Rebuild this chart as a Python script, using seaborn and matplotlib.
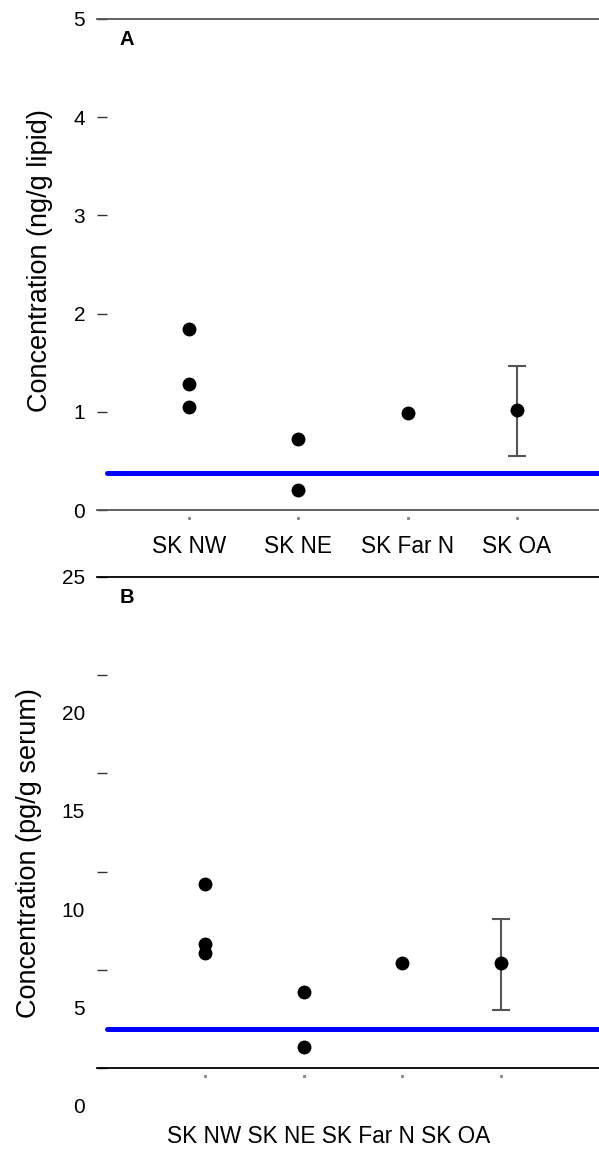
import matplotlib
matplotlib.use("Agg")
import matplotlib.pyplot as plt
import seaborn as sns
import pandas as pd
from matplotlib.transforms import ScaledTranslation, blended_transform_factory

# ---------------- data ----------------
categories = ["SK NW", "SK NE", "SK Far N", "SK OA"]

a_groups = ["SK NW", "SK NW", "SK NW", "SK NE", "SK NE", "SK Far N", "SK OA"]
a_values = [1.84, 1.28, 1.05, 0.72, 0.20, 0.985, 1.02]
a_oa_low, a_oa_high = 0.553, 1.47
a_lod = 0.38
a_yticks = [0, 1, 2, 3, 4, 5]
a_ylabel = "Concentration (ng/g lipid)"

b_groups = ["SK NW", "SK NW", "SK NW", "SK NE", "SK NE", "SK Far N", "SK OA"]
b_values = [9.36, 6.33, 5.83, 3.85, 1.05, 5.36, 5.33]
b_oa_low, b_oa_high = 2.95, 7.60
b_lod = 1.99
b_yticks = [0, 5, 10, 15, 20, 25]
b_ylabel = "Concentration (pg/g serum)"

# ---------------- style ----------------
sns.set_theme(style="white")
plt.rcParams["font.family"] = ["Liberation Sans", "DejaVu Sans"]

W, H = 599, 1150
fig = plt.figure(figsize=(W / 100, H / 100), dpi=100)
axA = fig.add_axes([97 / W, 1 - 510 / H, 502 / W, 491 / H])
axB = fig.add_axes([97 / W, 1 - 1068 / H, 502 / W, 491 / H])


def draw_panel(ax, groups, values, oa_low, oa_high, lod, yticks, ylabel,
               xlim, spine_color, letter):
    df = pd.DataFrame({"group": groups, "value": values})
    sns.stripplot(data=df, x="group", y="value", order=categories,
                  jitter=False, color="black", size=10, linewidth=0,
                  ax=ax, zorder=4)
    idx = categories.index("SK OA")
    mean = df.loc[df["group"] == "SK OA", "value"].iloc[0]
    ax.errorbar([idx], [mean], yerr=[[mean - oa_low], [oa_high - mean]],
                fmt="none", ecolor="#555555", elinewidth=1.5,
                capsize=6.2, capthick=1.5, zorder=3)
    ax.axhline(lod, xmin=10 / 502, xmax=1, color="#0000ff", lw=3.6, zorder=2)

    ax.set_xlim(*xlim)
    ax.set_ylim(yticks[0], yticks[-1])
    ax.set_yticks(yticks)
    ax.set_yticklabels([str(t) for t in yticks])
    for s in ["left", "right"]:
        ax.spines[s].set_visible(False)
    for s in ["top", "bottom"]:
        ax.spines[s].set_visible(True)
        ax.spines[s].set_color(spine_color)
        ax.spines[s].set_linewidth(1.3)
    ax.tick_params(axis="y", left=True, direction="in", length=7.2,
                   width=1, color="#333333", pad=8.6, labelsize=15,
                   labelcolor="black")
    ax.tick_params(axis="x", bottom=False, length=0, pad=18, labelsize=16.3,
                   labelcolor="black")
    ax.set_xlabel("")
    ax.set_ylabel(ylabel, fontsize=19.5, color="black")

    # tiny category tick dots below the axis
    tr = blended_transform_factory(ax.transData, ax.transAxes)
    ax.plot(range(len(categories)), [-0.0153] * len(categories), "s",
            ms=1.2, color="#888888", transform=tr, clip_on=False)

    ax.text(0.0458, 0.978, letter, transform=ax.transAxes, fontsize=14.5,
            fontweight="bold", ha="left", va="top", color="black")


draw_panel(axA, a_groups, a_values, a_oa_low, a_oa_high, a_lod, a_yticks,
           a_ylabel, (-0.842, 3.751), "#555555", "A")
draw_panel(axB, b_groups, b_values, b_oa_low, b_oa_high, b_lod, b_yticks,
           b_ylabel, (-1.10, 3.995), "black", "B")

axA.yaxis.set_label_coords(-0.0876, 0.508)
axB.yaxis.set_label_coords(-0.1096, 0.438)

# panel B: category names squeezed into one line
axB.tick_params(axis="x", labelbottom=False)
axB.text(0.462, -0.1405, " ".join(categories), transform=axB.transAxes,
         fontsize=16.3, ha="center", va="center", color="black")

# panel B: tick labels drawn shifted down (except the top one)
fig.canvas.draw()
shift = ScaledTranslation(0, -37.5 / 100, fig.dpi_scale_trans)
for lbl in axB.get_yticklabels():
    if lbl.get_text() != str(b_yticks[-1]):
        lbl.set_transform(lbl.get_transform() + shift)

fig.savefig("out.png", dpi=100)
